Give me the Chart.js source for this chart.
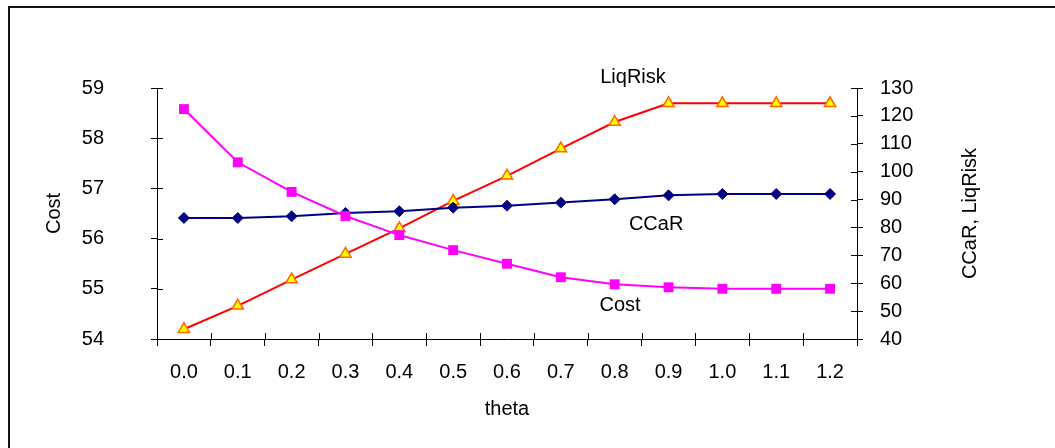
<!DOCTYPE html>
<html>
<head>
<meta charset="utf-8">
<script src="https://cdn.jsdelivr.net/npm/chart.js@4"></script>
<style>
  body { margin: 0; background: #fff; }
  canvas { display: block; }
</style>
</head>
<body>
<canvas id="c" width="1055" height="448"></canvas>
<script>
// values
const thetaLabels = ['0.0', '0.1', '0.2', '0.3', '0.4', '0.5', '0.6', '0.7', '0.8', '0.9', '1.0', '1.1', '1.2'];
const cost = [58.58, 57.52, 56.93, 56.45, 56.07, 55.77, 55.50, 55.23, 55.09, 55.03, 55.00, 55.00, 55.00];
const ccar = [83.4, 83.4, 84.0, 85.2, 85.8, 87.1, 87.8, 88.9, 90.1, 91.5, 92.0, 92.0, 92.0];
const liqRisk = [43.5, 51.9, 61.3, 70.5, 79.7, 89.5, 98.5, 108.3, 117.8, 124.5, 124.5, 124.5, 124.5];

// series names written inside the plot, anchored in data units
const seriesTags = [
  { text: 'LiqRisk', x: 8.34, y: 133.6, axis: 'y1' },
  { text: 'CCaR', x: 8.77, y: 81.2, axis: 'y1' },
  { text: 'Cost', x: 8.10, y: 54.66, axis: 'y' }
];

const FONT = { family: '"Liberation Sans", Arial, sans-serif', size: 20 };

// excel style ticks that cross the axis, plus the frame and rotated right title
const excelBits = {
  id: 'excelBits',
  afterDraw(chart) {
    const ctx = chart.ctx;
    const area = chart.chartArea;
    const xs = chart.scales.x, yl = chart.scales.y, yr = chart.scales.y1;
    ctx.save();
    ctx.strokeStyle = '#000';
    ctx.lineWidth = 1;
    ctx.beginPath();
    for (let i = 0; i <= thetaLabels.length; i++) {
      const px = Math.round(xs.getPixelForValue(i - 0.5)) + 0.5;
      ctx.moveTo(px, area.bottom);
      ctx.lineTo(px, area.bottom - 6);
    }
    yl.ticks.forEach(t => {
      const py = Math.round(yl.getPixelForValue(t.value)) + 0.5;
      ctx.moveTo(area.left, py);
      ctx.lineTo(area.left + 6, py);
    });
    yr.ticks.forEach(t => {
      const py = Math.round(yr.getPixelForValue(t.value)) + 0.5;
      ctx.moveTo(area.right, py);
      ctx.lineTo(area.right - 6, py);
    });
    ctx.stroke();

    // chart frame (only left and top edges are visible)
    ctx.fillStyle = '#111';
    ctx.fillRect(8, 6, 1100, 2);
    ctx.fillRect(8, 6, 2, 500);

    ctx.fillStyle = '#000';
    ctx.font = FONT.size + 'px ' + FONT.family;
    ctx.textAlign = 'center';
    ctx.textBaseline = 'middle';
    seriesTags.forEach(tag => {
      const sc = chart.scales[tag.axis];
      ctx.fillText(tag.text, xs.getPixelForValue(tag.x), sc.getPixelForValue(tag.y));
    });

    ctx.translate(970, (area.top + area.bottom) / 2);
    ctx.rotate(-Math.PI / 2);
    ctx.fillText('CCaR, LiqRisk', 0, 0);
    ctx.restore();
  }
};

new Chart(document.getElementById('c'), {
  type: 'line',
  data: {
    labels: thetaLabels,
    datasets: [
      {
        label: 'Cost', data: cost, yAxisID: 'y',
        borderColor: '#ff00ff', backgroundColor: '#ff00ff', borderWidth: 2,
        pointStyle: 'rect', pointRadius: 7, pointBorderWidth: 0, tension: 0
      },
      {
        label: 'CCaR', data: ccar, yAxisID: 'y1',
        borderColor: '#000080', backgroundColor: '#000080', borderWidth: 2,
        pointStyle: 'rectRot', pointRadius: 5.5, pointBorderWidth: 1, pointBorderColor: '#000080', tension: 0
      },
      {
        label: 'LiqRisk', data: liqRisk, yAxisID: 'y1',
        borderColor: '#ff0000', borderWidth: 2,
        pointStyle: 'triangle', pointRadius: 6.5, pointBorderWidth: 1.5,
        pointBackgroundColor: '#ffff00', pointBorderColor: '#ff6600', tension: 0
      }
    ]
  },
  options: {
    responsive: false,
    animation: false,
    layout: { padding: { top: 88, left: 0, right: 0, bottom: 0 } },
    plugins: { legend: { display: false }, tooltip: { enabled: false } },
    scales: {
      x: {
        type: 'category',
        offset: true,
        grid: { offset: true, drawOnChartArea: false, tickLength: 7, color: '#000' },
        border: { color: '#000', width: 1 },
        ticks: { color: '#000', font: FONT, padding: 14, maxRotation: 0, autoSkip: false },
        title: { display: true, text: 'theta', color: '#000', font: FONT, padding: { top: 0, bottom: 27 } },
        afterFit: s => { s.height = 109; }
      },
      y: {
        position: 'left',
        min: 54, max: 59,
        grid: { drawOnChartArea: false, tickLength: 6, color: '#000' },
        border: { color: '#000', width: 1 },
        ticks: { stepSize: 1, color: '#000', font: FONT, padding: 47 },
        title: { display: true, text: 'Cost', color: '#000', font: FONT, padding: { top: 42, bottom: 0 } },
        afterFit: s => { s.width = 157; }
      },
      y1: {
        position: 'right',
        min: 40, max: 130,
        grid: { drawOnChartArea: false, tickLength: 6, color: '#000' },
        border: { color: '#000', width: 1 },
        ticks: { stepSize: 10, color: '#000', font: FONT, padding: 17 },
        afterFit: s => { s.width = 198; }
      }
    }
  },
  plugins: [excelBits]
});
</script>
</body>
</html>
